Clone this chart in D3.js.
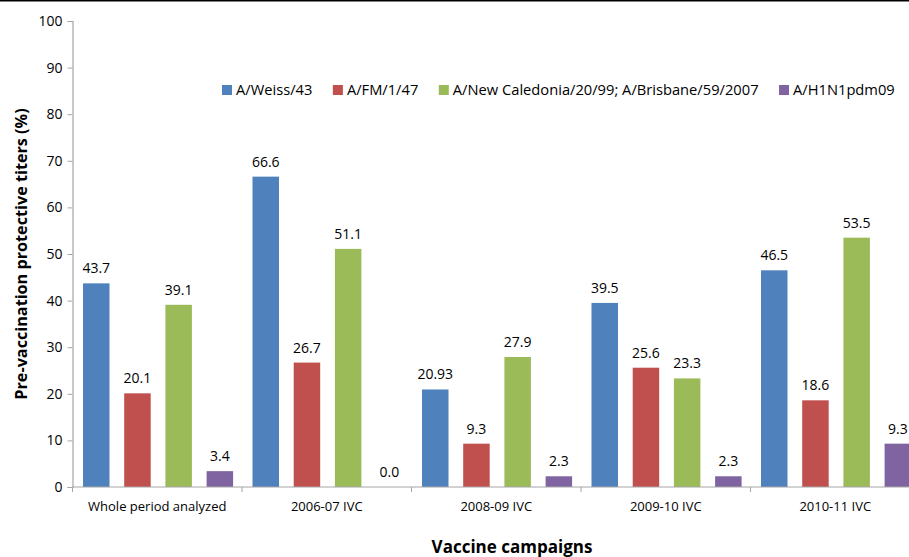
<!DOCTYPE html>
<html>
<head>
<meta charset="utf-8">
<script src="https://cdn.jsdelivr.net/npm/d3@7"></script>
<style>
  html, body { margin: 0; padding: 0; background: #fff; }
  svg { display: block; }
  text { font-family: "Open Sans", sans-serif; fill: #000; }
</style>
</head>
<body>
<svg id="chart" width="909" height="557"></svg>
<script>
const categories = ["Whole period analyzed", "2006-07 IVC", "2008-09 IVC", "2009-10 IVC", "2010-11 IVC"];
const seriesNames = ["A/Weiss/43", "A/FM/1/47", "A/New Caledonia/20/99; A/Brisbane/59/2007", "A/H1N1pdm09"];
const weiss    = [43.7, 66.6, 20.93, 39.5, 46.5];
const fm       = [20.1, 26.7, 9.3, 25.6, 18.6];
const ncBris   = [39.1, 51.1, 27.9, 23.3, 53.5];
const h1n1     = [3.4, 0.0, 2.3, 2.3, 9.3];
const weissLabels  = ["43.7", "66.6", "20.93", "39.5", "46.5"];
const fmLabels     = ["20.1", "26.7", "9.3", "25.6", "18.6"];
const ncBrisLabels = ["39.1", "51.1", "27.9", "23.3", "53.5"];
const h1n1Labels   = ["3.4", "0.0", "2.3", "2.3", "9.3"];
const yTicks = [0, 10, 20, 30, 40, 50, 60, 70, 80, 90, 100];
const colors = ["#4F81BD", "#C0504D", "#9BBB59", "#8064A2"];
const yTitle = "Pre-vaccination protective titers (%)";
const xTitle = "Vaccine campaigns";

(function () {
const seriesValues = [weiss, fm, ncBris, h1n1];
const seriesLabels = [weissLabels, fmLabels, ncBrisLabels, h1n1Labels];

const svg = d3.select("#chart");
const W = 909;
const mLeft = 72.5, mBottom = 487, mTop = 21;
const groupW = 169.5;
const mRight = mLeft + groupW * categories.length;

// top border line
svg.append("rect").attr("x", 0).attr("y", 0).attr("width", W).attr("height", 1.5).attr("fill", "#000");

const y = d3.scaleLinear().domain([0, 100]).range([mBottom, mTop]);
const x0 = d3.scaleBand().domain(categories).range([mLeft, mRight]).paddingInner(0).paddingOuter(0);
const x1 = d3.scaleBand().domain(d3.range(4)).range([10.5, 160.6]).paddingInner(0.357).paddingOuter(0);

// bars
const g = svg.append("g");
categories.forEach((c, ci) => {
  seriesValues.forEach((vals, si) => {
    const v = vals[ci];
    const bx = x0(c) + x1(si);
    g.append("rect")
      .attr("x", bx)
      .attr("y", y(v))
      .attr("width", x1.bandwidth())
      .attr("height", y(0) - y(v))
      .attr("fill", colors[si]);
    g.append("text")
      .attr("x", bx + x1.bandwidth() / 2)
      .attr("y", y(v) - 10)
      .attr("text-anchor", "middle")
      .attr("font-size", 14)
      .text(seriesLabels[si][ci]);
  });
});

// y axis
const yAxis = d3.axisLeft(y).tickValues(yTicks).tickSize(5).tickPadding(5).tickFormat(d3.format("d"));
const ya = svg.append("g").attr("transform", `translate(${mLeft},0)`).call(yAxis);
ya.select(".domain").attr("stroke", "#A6A6A6").attr("stroke-width", 1.2);
ya.selectAll(".tick line").attr("stroke", "#A6A6A6");
ya.selectAll(".tick text").attr("font-family", "Open Sans").attr("font-size", 14).attr("fill", "#000");

// x axis
const xa = svg.append("g").attr("transform", `translate(0,${mBottom})`);
xa.append("line").attr("x1", mLeft).attr("x2", W).attr("y1", 0).attr("y2", 0).attr("stroke", "#A6A6A6").attr("stroke-width", 1.2);
const bounds = d3.range(categories.length + 1).map(i => mLeft + i * groupW);
xa.selectAll("line.tk").data(bounds).enter().append("line")
  .attr("class", "tk")
  .attr("x1", d => d).attr("x2", d => d).attr("y1", 0).attr("y2", 5)
  .attr("stroke", "#A6A6A6");
xa.selectAll("text.cat").data(categories).enter().append("text")
  .attr("class", "cat")
  .attr("x", d => x0(d) + x0.bandwidth() / 2)
  .attr("y", 24)
  .attr("text-anchor", "middle")
  .attr("font-size", 13)
  .text(d => d);

// titles
svg.append("text")
  .attr("transform", `translate(27,254) rotate(-90)`)
  .attr("text-anchor", "middle")
  .attr("font-weight", "bold")
  .attr("font-size", 16.2)
  .text(yTitle);
svg.append("text")
  .attr("x", 512).attr("y", 553)
  .attr("text-anchor", "middle")
  .attr("font-weight", "bold")
  .attr("font-size", 17)
  .text(xTitle);

// legend
const leg = svg.append("g");
let lx = 222;
seriesNames.forEach((name, i) => {
  leg.append("rect").attr("x", lx).attr("y", 85).attr("width", 10).attr("height", 10).attr("fill", colors[i]);
  const t = leg.append("text").attr("x", lx + 14).attr("y", 95).attr("font-size", 14.7).text(name);
  lx += 14 + t.node().getComputedTextLength() + 20.5;
});
})();
</script>
</body>
</html>
